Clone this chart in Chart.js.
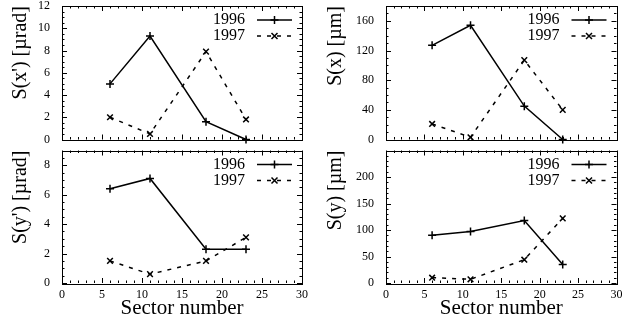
<!DOCTYPE html>
<html>
<head>
<meta charset="utf-8">
<script src="https://cdn.jsdelivr.net/npm/chart.js@4/dist/chart.umd.min.js"></script>
<style>
  html, body { margin: 0; padding: 0; background: #fff; }
  #wrap { position: relative; width: 622px; height: 328px; background: #fff; overflow: hidden; }
  canvas { position: absolute; }
</style>
</head>
<body>
<div id="wrap">
  <canvas id="c1" width="311" height="145" style="left:0;top:0"></canvas>
  <canvas id="c2" width="311" height="145" style="left:311px;top:0"></canvas>
  <canvas id="c3" width="311" height="183" style="left:0;top:145px"></canvas>
  <canvas id="c4" width="311" height="183" style="left:311px;top:145px"></canvas>
</div>
<script>
// ---- data ----
const sectors = [6, 11, 18, 23];
const seriesNames = ['1996', '1997'];
const xPrime1996 = [5.0, 9.3, 1.6, 0.0];
const xPrime1997 = [2.0, 0.5, 7.9, 1.8];
const x1996 = [127, 154, 45, 0];
const x1997 = [21, 3, 107, 40];
const yPrime1996 = [6.4, 7.1, 2.3, 2.3];
const yPrime1997 = [1.5, 0.6, 1.5, 3.1];
const y1996 = [90, 97, 118, 35];
const y1997 = [10, 7, 44, 122];
const xTicks = [0, 5, 10, 15, 20, 25, 30];
const yTicksXPrime = [0, 2, 4, 6, 8, 10, 12];
const yTicksX = [0, 40, 80, 120, 160];
const yTicksYPrime = [0, 2, 4, 6, 8];
const yTicksY = [0, 50, 100, 150, 200];

const SERIF = '"Liberation Serif", "DejaVu Serif", serif';

function pts(vals) { return sectors.map((s, i) => ({ x: s, y: vals[i] })); }

const framePlugin = {
  id: 'frame',
  afterDatasetsDraw(chart, args, opts) {
    const { ctx, chartArea: a, scales: { x, y } } = chart;
    ctx.save();
    ctx.strokeStyle = '#000';
    ctx.lineWidth = 1;
    ctx.setLineDash([]);
    ctx.strokeRect(Math.round(a.left) + 0.5, Math.round(a.top) + 0.5,
                   Math.round(a.right - a.left), Math.round(a.bottom - a.top));
    ctx.beginPath();
    const xn = Math.round((x.max - x.min) / opts.xMinor);
    for (let i = 0; i <= xn; i++) {
      const v = x.min + i * opts.xMinor;
      const major = Math.abs(v / opts.xMajor - Math.round(v / opts.xMajor)) < 1e-6;
      const L = major ? 5 : 2.5;
      const px = Math.round(x.getPixelForValue(v)) + 0.5;
      ctx.moveTo(px, a.bottom); ctx.lineTo(px, a.bottom - L);
      ctx.moveTo(px, a.top); ctx.lineTo(px, a.top + L);
    }
    const yn = Math.round((y.max - y.min) / opts.yMinor);
    for (let i = 0; i <= yn; i++) {
      const v = y.min + i * opts.yMinor;
      const major = Math.abs(v / opts.yMajor - Math.round(v / opts.yMajor)) < 1e-6;
      const L = major ? 5 : 2.5;
      const py = Math.round(y.getPixelForValue(v)) + 0.5;
      ctx.moveTo(a.left, py); ctx.lineTo(a.left + L, py);
      ctx.moveTo(a.right, py); ctx.lineTo(a.right - L, py);
    }
    ctx.stroke();
    ctx.restore();
  }
};

const keyPlugin = {
  id: 'key',
  afterDraw(chart) {
    const { ctx, chartArea: a } = chart;
    ctx.save();
    ctx.font = '16px ' + SERIF;
    ctx.fillStyle = '#000';
    ctx.textAlign = 'right';
    ctx.textBaseline = 'middle';
    chart.data.datasets.forEach((ds, i) => {
      const yy = a.top + 14 + i * 16;
      ctx.fillText(ds.label, a.right - 57, yy);
      const x0 = a.right - 45, x1 = a.right - 10, xm = (x0 + x1) / 2;
      ctx.strokeStyle = '#000';
      ctx.lineWidth = 1.5;
      ctx.setLineDash(ds.borderDash || []);
      ctx.beginPath(); ctx.moveTo(x0, yy); ctx.lineTo(x1, yy); ctx.stroke();
      ctx.setLineDash([]);
      const r = 4;
      ctx.beginPath();
      if (ds.pointStyle === 'cross') {
        ctx.moveTo(xm - r, yy); ctx.lineTo(xm + r, yy);
        ctx.moveTo(xm, yy - r); ctx.lineTo(xm, yy + r);
      } else {
        const d = r * 0.75;
        ctx.moveTo(xm - d, yy - d); ctx.lineTo(xm + d, yy + d);
        ctx.moveTo(xm - d, yy + d); ctx.lineTo(xm + d, yy - d);
      }
      ctx.stroke();
    });
    ctx.restore();
  }
};

function makeChart(id, opt) {
  const datasets = [
    { label: seriesNames[0], data: pts(opt.a), borderColor: '#000', backgroundColor: '#000',
      borderWidth: 1.5, pointStyle: 'cross', pointRadius: 4, pointBorderWidth: 1.5,
      fill: false, tension: 0, clip: false },
    { label: seriesNames[1], data: pts(opt.b), borderColor: '#000', backgroundColor: '#000',
      borderWidth: 1.5, borderDash: [4, 6], pointStyle: 'crossRot', pointRadius: 4, pointBorderWidth: 1.5,
      fill: false, tension: 0, clip: false }
  ];
  return new Chart(document.getElementById(id), {
    type: 'line',
    data: { datasets },
    plugins: [framePlugin, keyPlugin],
    options: {
      responsive: false, animation: false, devicePixelRatio: 1,
      layout: { padding: { top: opt.padTop, right: opt.padRight, left: 0, bottom: 0 } },
      plugins: {
        legend: { display: false }, tooltip: { enabled: false },
        frame: { xMinor: 1, xMajor: 5, yMinor: opt.yMinor, yMajor: opt.yMajor }
      },
      scales: {
        x: {
          type: 'linear', min: 0, max: 30,
          grid: { display: false, drawTicks: false }, border: { display: false },
          afterBuildTicks(s) { s.ticks = xTicks.map(v => ({ value: v })); },
          ticks: { display: opt.showX, autoSkip: false, maxRotation: 0, padding: 5,
                   color: '#000', font: { family: SERIF, size: 12 } },
          title: { display: opt.showX, text: 'Sector number', color: '#000',
                   font: { family: SERIF, size: 21 }, padding: { top: 0, bottom: 7 } },
          afterFit(s) { s.height = opt.xh; s.paddingLeft = 0; s.paddingRight = 0; }
        },
        y: {
          type: 'linear', min: 0, max: opt.ymax,
          grid: { display: false, drawTicks: false }, border: { display: false },
          afterBuildTicks(s) { s.ticks = opt.yTicks.map(v => ({ value: v })); },
          ticks: { padding: 12, color: '#000', font: { family: SERIF, size: 12 } },
          title: { display: true, text: opt.title, color: '#000', align: 'end',
                   font: { family: SERIF, size: 20 }, padding: { top: opt.titlePad, bottom: 0 } },
          afterFit(s) { s.width = opt.yw; s.paddingTop = 0; s.paddingBottom = 0; }
        }
      }
    }
  });
}

makeChart('c1', { a: xPrime1996, b: xPrime1997, ymax: 12, yTicks: yTicksXPrime, yMinor: 0.5, yMajor: 2,
  title: "S(x') [\u00b5rad]", showX: false, xh: 5, padTop: 6, padRight: 9, yw: 62, titlePad: 9 });
makeChart('c2', { a: x1996, b: x1997, ymax: 180, yTicks: yTicksX, yMinor: 10, yMajor: 40,
  title: 'S(x) [\u00b5m]', showX: false, xh: 5, padTop: 6, padRight: 5, yw: 75, titlePad: 13 });
makeChart('c3', { a: yPrime1996, b: yPrime1997, ymax: 9, yTicks: yTicksYPrime, yMinor: 0.5, yMajor: 2,
  title: "S(y') [\u00b5rad]", showX: true, xh: 45, padTop: 5, padRight: 9, yw: 62, titlePad: 9 });
makeChart('c4', { a: y1996, b: y1997, ymax: 250, yTicks: yTicksY, yMinor: 10, yMajor: 50,
  title: 'S(y) [\u00b5m]', showX: true, xh: 45, padTop: 5, padRight: 5, yw: 75, titlePad: 13 });
</script>
</body>
</html>
